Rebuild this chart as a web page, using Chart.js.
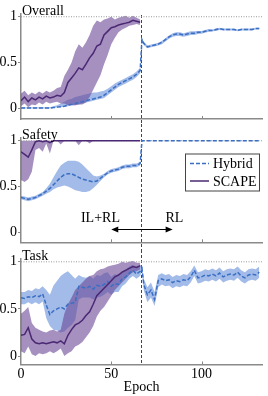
<!DOCTYPE html>
<html>
<head>
<meta charset="utf-8">
<script src="https://cdn.jsdelivr.net/npm/chart.js@4"></script>
<style>
  body { margin: 0; background: #fff; }
  canvas { position: absolute; left: 0; }
</style>
</head>
<body>
<canvas id="overall" width="268" height="124" style="top:0px"></canvas>
<canvas id="safety" width="268" height="126" style="top:124px"></canvas>
<canvas id="task" width="268" height="146" style="top:250px"></canvas>
<script>
// epochs (SCAPE only runs to 66, Hybrid keeps going with RL)
const epochs = [0,2,4,6,8,10,12,14,16,18,20,22,24,26,28,30,32,34,36,38,40,42,44,46,48,50,52,54,56,58,60,62,64,66,67,
  68,70,72,74,76,78,80,82,84,86,88,90,92,94,96,98,100,102,104,106,108,110,112,114,116,118,120,122,124,126,128,130,132]
const scapeEpochs = [0,2,4,6,8,10,12,14,16,18,20,22,24,26,28,30,32,34,36,38,40,42,44,46,48,50,52,54,56,58,60,62,64,66]

const switchEpoch = 66.5
const xMax = 133.5
const xTicks = [0, 50, 100]
const yTicks = [0, 0.5, 1]
const panelTitles = ['Overall', 'Safety', 'Task']
const legendLabels = ['Hybrid', 'SCAPE']
const phaseLabels = ['IL+RL', 'RL']
const phaseLabelX = [44, 85]
const phaseLabelY = 0.15
const arrowX = [50, 84]
const arrowY = 0.035

// Overall
const hybOverall = [0,0,0,0,0,0,0,0,0,0.005,0.01,0.015,0.02,0.03,0.04,0.05,0.06,0.07,0.08,0.09,0.10,0.11,0.12,0.14,0.17,0.20,0.23,0.26,0.28,0.30,0.32,0.34,0.37,0.41,
  0.75,
  0.71,0.67,0.68,0.69,0.70,0.72,0.75,0.78,0.80,0.81,0.81,0.80,0.81,0.82,0.82,0.83,0.83,0.84,0.85,0.85,0.86,0.87,0.86,0.86,0.86,0.86,0.85,0.86,0.86,0.86,0.86,0.87,0.87]
const hybOverallLo = [-0.005,-0.005,-0.005,-0.005,-0.005,-0.005,-0.005,-0.005,-0.005,0.00,0.005,0.01,0.015,0.02,0.03,0.03,0.04,0.05,0.06,0.07,0.08,0.09,0.10,0.11,0.14,0.17,0.20,0.23,0.25,0.27,0.29,0.31,0.34,0.38,
  0.72,
  0.69,0.655,0.665,0.675,0.685,0.70,0.73,0.76,0.78,0.79,0.79,0.78,0.79,0.80,0.80,0.81,0.815,0.825,0.835,0.84,0.845,0.855,0.85,0.85,0.85,0.85,0.84,0.85,0.85,0.85,0.85,0.86,0.86]
const hybOverallHi = [0.01,0.01,0.01,0.01,0.01,0.01,0.01,0.01,0.01,0.02,0.03,0.05,0.07,0.09,0.10,0.12,0.13,0.14,0.15,0.16,0.17,0.17,0.18,0.19,0.21,0.24,0.27,0.29,0.31,0.33,0.35,0.37,0.40,0.44,
  0.77,
  0.725,0.685,0.695,0.705,0.715,0.735,0.765,0.795,0.82,0.83,0.83,0.82,0.83,0.84,0.84,0.845,0.845,0.855,0.865,0.86,0.87,0.88,0.87,0.87,0.87,0.87,0.86,0.87,0.87,0.87,0.87,0.88,0.88]
const scapeOverall = [0.08,0.12,0.07,0.11,0.09,0.12,0.10,0.13,0.11,0.12,0.14,0.13,0.17,0.28,0.33,0.38,0.44,0.42,0.48,0.55,0.60,0.68,0.70,0.80,0.84,0.88,0.89,0.91,0.92,0.93,0.94,0.96,0.95,0.94]
const scapeOverallLo = [0.02,0.05,0.01,0.04,0.03,0.06,0.04,0.07,0.05,0.06,0.07,0.05,0.05,0.03,0.03,0.03,0.04,0.04,0.06,0.12,0.20,0.28,0.36,0.48,0.58,0.70,0.77,0.83,0.86,0.88,0.90,0.91,0.92,0.91]
const scapeOverallHi = [0.16,0.19,0.14,0.17,0.15,0.18,0.16,0.19,0.17,0.19,0.22,0.23,0.35,0.42,0.50,0.62,0.70,0.66,0.72,0.80,0.90,0.96,0.94,0.97,0.98,1.00,0.97,0.99,1.00,1.01,0.99,1.01,0.99,0.97]

// Safety
const hybSafety = [0.38,0.37,0.36,0.37,0.38,0.40,0.42,0.45,0.48,0.52,0.56,0.60,0.63,0.64,0.64,0.62,0.60,0.58,0.57,0.56,0.55,0.56,0.59,0.62,0.65,0.67,0.68,0.69,0.71,0.72,0.72,0.73,0.73,0.75,
  1,
  1,1,1,1,1,1,1,1,1,1,1,1,1,1,1,1,1,1,1,1,1,1,1,1,1,1,1,1,1,1,1,1,1]
const hybSafetyLo = [0.36,0.35,0.34,0.35,0.36,0.38,0.40,0.42,0.44,0.47,0.49,0.50,0.51,0.50,0.48,0.46,0.45,0.44,0.44,0.45,0.48,0.52,0.56,0.60,0.63,0.65,0.66,0.67,0.69,0.70,0.70,0.71,0.71,0.73,
  1,
  1,1,1,1,1,1,1,1,1,1,1,1,1,1,1,1,1,1,1,1,1,1,1,1,1,1,1,1,1,1,1,1,1]
const hybSafetyHi = [0.40,0.39,0.38,0.39,0.40,0.42,0.44,0.48,0.53,0.60,0.67,0.73,0.76,0.78,0.78,0.78,0.77,0.74,0.70,0.66,0.62,0.61,0.62,0.64,0.67,0.69,0.70,0.71,0.73,0.74,0.74,0.75,0.75,0.77,
  1,
  1,1,1,1,1,1,1,1,1,1,1,1,1,1,1,1,1,1,1,1,1,1,1,1,1,1,1,1,1,1,1,1,1]
const scapeSafety = [0.88,0.85,0.82,0.90,0.99,1,0.99,1,0.98,1,1,1,1,1,1,1,1,1,1,1,1,1,1,1,1,1,1,1,1,1,1,1,1,1]
const scapeSafetyLo = [0.57,0.55,0.58,0.66,0.90,0.92,0.88,0.97,0.86,1,1,0.96,1,1,1,1,0.95,1,1,0.97,1,1,1,1,1,1,1,1,1,1,1,1,1,1]
const scapeSafetyHi = [1,1,1,1,1,1,1,1,1,1,1,1,1,1,1,1,1,1,1,1,1,1,1,1,1,1,1,1,1,1,1,1,1,1]

// Task
const hybTask = [0.62,0.61,0.63,0.62,0.64,0.63,0.66,0.54,0.44,0.48,0.50,0.52,0.50,0.55,0.56,0.57,0.74,0.73,0.72,0.74,0.71,0.75,0.74,0.76,0.79,0.74,0.77,0.76,0.82,0.84,0.88,0.91,0.87,0.90,
  0.93,
  0.76,0.65,0.70,0.60,0.80,0.82,0.80,0.81,0.78,0.80,0.79,0.81,0.80,0.84,0.91,0.83,0.84,0.86,0.85,0.87,0.85,0.88,0.84,0.86,0.87,0.86,0.89,0.85,0.83,0.86,0.87,0.86,0.89]
const hybTaskLo = [0.55,0.55,0.57,0.55,0.57,0.55,0.58,0.40,0.32,0.28,0.27,0.25,0.26,0.30,0.33,0.38,0.60,0.62,0.62,0.62,0.60,0.62,0.63,0.65,0.68,0.65,0.68,0.68,0.74,0.77,0.82,0.85,0.82,0.85,
  0.90,
  0.70,0.57,0.62,0.53,0.73,0.76,0.74,0.75,0.72,0.74,0.73,0.75,0.74,0.78,0.85,0.77,0.78,0.80,0.79,0.81,0.79,0.82,0.78,0.80,0.81,0.80,0.83,0.79,0.77,0.80,0.81,0.80,0.83]
const hybTaskHi = [0.68,0.68,0.70,0.69,0.72,0.71,0.74,0.70,0.65,0.75,0.80,0.85,0.88,0.90,0.86,0.82,0.86,0.84,0.83,0.85,0.82,0.86,0.85,0.88,0.89,0.84,0.87,0.85,0.90,0.92,0.95,0.97,0.94,0.96,
  0.97,
  0.82,0.73,0.78,0.68,0.86,0.88,0.86,0.87,0.84,0.86,0.85,0.87,0.86,0.90,0.96,0.89,0.90,0.92,0.91,0.93,0.91,0.94,0.90,0.92,0.93,0.92,0.95,0.91,0.89,0.92,0.93,0.92,0.95]
const scapeTask = [0.22,0.23,0.30,0.18,0.14,0.13,0.14,0.13,0.14,0.15,0.14,0.16,0.13,0.22,0.28,0.33,0.35,0.38,0.43,0.47,0.55,0.64,0.68,0.72,0.76,0.80,0.84,0.86,0.89,0.91,0.93,0.95,0.94,0.96]
const scapeTaskLo = [0.05,0.03,0.10,0.02,0.00,0.03,0.02,0.03,0.05,0.03,0.05,0.08,0.00,0.03,0.05,0.10,0.12,0.15,0.20,0.25,0.32,0.42,0.48,0.52,0.58,0.64,0.70,0.74,0.78,0.82,0.86,0.89,0.90,0.92]
const scapeTaskHi = [0.45,0.48,0.52,0.35,0.30,0.28,0.26,0.25,0.27,0.28,0.26,0.28,0.45,0.55,0.62,0.70,0.74,0.78,0.82,0.85,0.86,0.90,0.92,0.93,0.95,0.96,0.97,0.98,1.00,0.99,1.00,1.01,0.99,0.99]

const hybColor = '#3a6fc4'
const hybBand = 'rgba(70,120,210,0.5)'
const scapeColor = '#4b2873'
const scapeBand = 'rgba(105,70,150,0.6)'
const serif = "'Liberation Serif', serif"

Chart.defaults.font.family = serif
Chart.defaults.font.size = 14
Chart.defaults.color = '#000'

const pts = (xs, ys) => ys.map((y, i) => ({x: xs[i], y: y}))

// vertical switch line, inward x ticks, titles, legend, arrow
const decor = {
  id: 'decor',
  beforeDatasetsDraw(chart, args, opts) {
    const {ctx, chartArea: a, scales: {x}} = chart
    const vx = Math.round(x.getPixelForValue(switchEpoch)) + 0.5
    ctx.save()
    ctx.strokeStyle = '#444'
    ctx.lineWidth = 1
    ctx.setLineDash([3, 2])
    ctx.beginPath()
    ctx.moveTo(vx, opts.fromTop ? 0 : a.top + 1)
    ctx.lineTo(vx, opts.toBottom ? chart.height : a.bottom)
    ctx.stroke()
    ctx.restore()
  },
  afterDraw(chart, args, opts) {
    const {ctx, chartArea: a, scales: {x, y}} = chart
    ctx.save()
    // inward x ticks
    ctx.strokeStyle = '#888'
    ctx.lineWidth = 1
    xTicks.forEach(v => {
      if (v === 0) return
      const px = Math.round(x.getPixelForValue(v)) + 0.5
      ctx.beginPath()
      ctx.moveTo(px, a.bottom)
      ctx.lineTo(px, a.bottom - 3)
      ctx.stroke()
    })
    // panel title
    ctx.fillStyle = '#000'
    ctx.font = '14px ' + serif
    ctx.textAlign = 'left'
    ctx.textBaseline = 'alphabetic'
    ctx.fillText(opts.title, a.left + 1, y.getPixelForValue(1) - 2)

    if (opts.legend) {
      const bx = a.right - 77, by = a.top + 15.5, bw = 74, bh = 37
      ctx.fillStyle = '#fff'
      ctx.fillRect(bx, by, bw, bh)
      ctx.strokeStyle = '#444'
      ctx.strokeRect(bx + 0.5, by + 0.5, bw, bh)
      const rows = [[legendLabels[0], hybColor, [4, 2]], [legendLabels[1], scapeColor, []]]
      rows.forEach((r, i) => {
        const ry = by + 10 + i * 17.5
        ctx.strokeStyle = r[1]
        ctx.lineWidth = 1.5
        ctx.setLineDash(r[2])
        ctx.beginPath()
        ctx.moveTo(bx + 5, ry)
        ctx.lineTo(bx + 24, ry)
        ctx.stroke()
        ctx.setLineDash([])
        ctx.fillStyle = '#000'
        ctx.textBaseline = 'middle'
        ctx.fillText(r[0], bx + 28, ry + 1)
      })
    }

    if (opts.arrow) {
      ctx.fillStyle = '#000'
      ctx.textAlign = 'center'
      ctx.textBaseline = 'middle'
      phaseLabels.forEach((t, i) => {
        ctx.fillText(t, x.getPixelForValue(phaseLabelX[i]), y.getPixelForValue(phaseLabelY))
      })
      const x0 = x.getPixelForValue(arrowX[0]), x1 = x.getPixelForValue(arrowX[1])
      const ay = Math.round(y.getPixelForValue(arrowY)) + 0.5
      ctx.strokeStyle = '#000'
      ctx.lineWidth = 1
      ctx.beginPath()
      ctx.moveTo(x0 + 4, ay)
      ctx.lineTo(x1 - 4, ay)
      ctx.stroke()
      ctx.beginPath()
      ctx.moveTo(x0, ay); ctx.lineTo(x0 + 7, ay - 3); ctx.lineTo(x0 + 7, ay + 3); ctx.closePath()
      ctx.moveTo(x1, ay); ctx.lineTo(x1 - 7, ay - 3); ctx.lineTo(x1 - 7, ay + 3); ctx.closePath()
      ctx.fill()
    }
    ctx.restore()
  }
}

function makePanel(id, p) {
  const datasets = [
    {data: pts(scapeEpochs, p.scape), borderColor: scapeColor, borderWidth: 1.5, pointRadius: 0, fill: false, tension: 0},
    {data: pts(epochs, p.hyb), borderColor: hybColor, borderWidth: 1.5, borderDash: [4, 2], pointRadius: 0, fill: false, tension: 0},
    {data: [{x: 0, y: 1}, {x: xMax, y: 1}], borderColor: '#9a9a9a', borderWidth: 1, borderDash: [1, 1.5], pointRadius: 0, fill: false},
    {data: pts(scapeEpochs, p.scapeHi), borderColor: 'transparent', borderWidth: 0, pointRadius: 0, fill: 4, backgroundColor: scapeBand, tension: 0},
    {data: pts(scapeEpochs, p.scapeLo), borderColor: 'transparent', borderWidth: 0, pointRadius: 0, fill: false, tension: 0},
    {data: pts(epochs, p.hybHi), borderColor: 'transparent', borderWidth: 0, pointRadius: 0, fill: 6, backgroundColor: hybBand, tension: 0},
    {data: pts(epochs, p.hybLo), borderColor: 'transparent', borderWidth: 0, pointRadius: 0, fill: false, tension: 0}
  ]

  return new Chart(document.getElementById(id), {
    type: 'line',
    data: {datasets: datasets},
    plugins: [decor],
    options: {
      responsive: false,
      animation: false,
      devicePixelRatio: 1,
      layout: {padding: {top: p.padTop, right: 6, left: 0, bottom: 0}},
      plugins: {
        legend: {display: false},
        tooltip: {enabled: false},
        decor: {title: p.title, legend: p.legend, arrow: p.arrow, fromTop: p.fromTop, toBottom: p.toBottom}
      },
      scales: {
        x: {
          type: 'linear', min: 0, max: xMax,
          afterBuildTicks: s => { s.ticks = xTicks.map(v => ({value: v})) },
          ticks: {display: p.xLabels, padding: 1, maxRotation: 0},
          grid: {display: false, drawTicks: false, tickLength: 0},
          border: {color: '#8a8a8a', width: 1.5},
          title: {display: p.xLabels, text: 'Epoch', padding: {top: 0, bottom: 0}},
          afterFit: s => { s.height = p.xAxisH; s.paddingLeft = 0; s.paddingRight = 0 }
        },
        y: {
          min: p.yMin, max: 1.03,
          afterBuildTicks: s => { s.ticks = yTicks.map(v => ({value: v})) },
          ticks: {padding: 1, callback: v => String(v)},
          grid: {drawOnChartArea: false, tickLength: 3, color: '#8a8a8a'},
          border: {color: '#8a8a8a', width: 1.5},
          afterFit: s => { s.width = 21; s.paddingTop = 0; s.paddingBottom = 0 }
        }
      }
    }
  })
}

makePanel('overall', {
  title: panelTitles[0], hyb: hybOverall, hybLo: hybOverallLo, hybHi: hybOverallHi,
  scape: scapeOverall, scapeLo: scapeOverallLo, scapeHi: scapeOverallHi,
  yMin: -0.12, padTop: 14, xAxisH: 5, xLabels: false, fromTop: false, toBottom: true
})
makePanel('safety', {
  title: panelTitles[1], hyb: hybSafety, hybLo: hybSafetyLo, hybHi: hybSafetyHi,
  scape: scapeSafety, scapeLo: scapeSafetyLo, scapeHi: scapeSafetyHi,
  yMin: -0.11, padTop: 14, xAxisH: 7.7, xLabels: false, fromTop: true, toBottom: true,
  legend: true, arrow: true
})
makePanel('task', {
  title: panelTitles[2], hyb: hybTask, hybLo: hybTaskLo, hybHi: hybTaskHi,
  scape: scapeTask, scapeLo: scapeTaskLo, scapeHi: scapeTaskHi,
  yMin: -0.09, padTop: 9, xAxisH: 31.5, xLabels: true, fromTop: true, toBottom: false
})
</script>
</body>
</html>
